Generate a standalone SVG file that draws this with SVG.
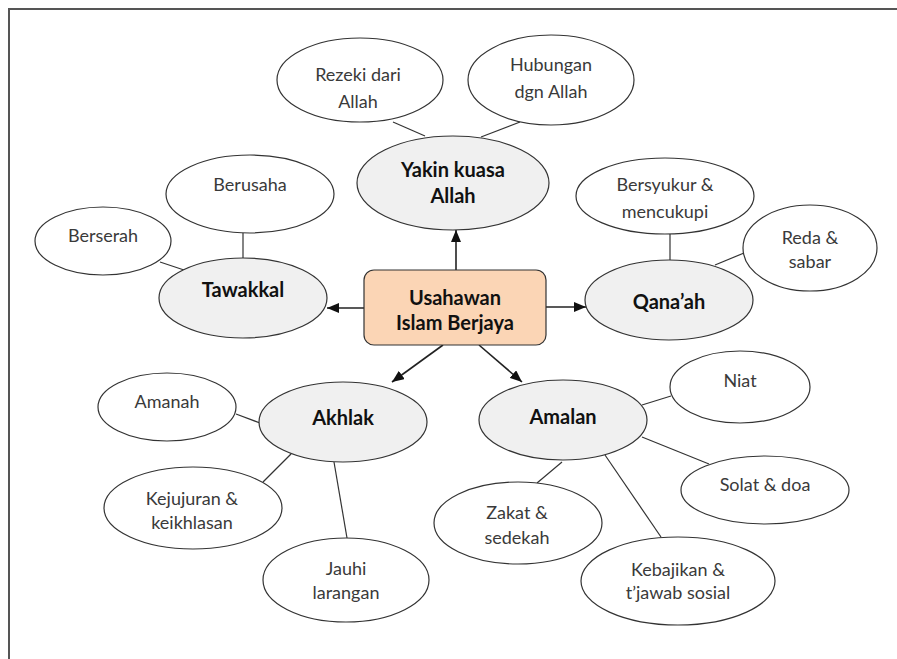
<svg xmlns="http://www.w3.org/2000/svg" width="897" height="659" viewBox="0 0 897 659">
<defs>
<marker id="ah" viewBox="0 0 12 10" refX="12" refY="5" markerWidth="12" markerHeight="10" markerUnits="userSpaceOnUse" orient="auto">
<path d="M0,0 L12,5 L0,10 Z" fill="#111"/>
</marker>
<style>
.sub{fill:#fff;stroke:#333;stroke-width:1.2}
.main{fill:#f0f0f0;stroke:#333;stroke-width:1.2}
.t{font-family:Lato,"Liberation Sans",sans-serif;font-size:18px;fill:#3a3a3a;text-anchor:middle}
.b{font-family:Lato,"Liberation Sans",sans-serif;font-size:20px;font-weight:bold;fill:#111;text-anchor:middle}
.ln{stroke:#333;stroke-width:1.2;fill:none}
.ar{stroke:#222;stroke-width:1.6;fill:none;marker-end:url(#ah)}
</style>
</defs>
<rect x="0" y="0" width="897" height="659" fill="#fff"/>
<path d="M9,670 V9 H905" fill="none" stroke="#555" stroke-width="2"/>
<g id="connectors">
<line class="ln" x1="393" y1="122" x2="425" y2="136"/>
<line class="ln" x1="520" y1="122" x2="481" y2="137"/>
<line class="ln" x1="243" y1="233" x2="243" y2="258"/>
<line class="ln" x1="160" y1="262" x2="187" y2="271"/>
<line class="ln" x1="670" y1="234" x2="670" y2="260"/>
<line class="ln" x1="744" y1="253" x2="715" y2="265"/>
<line class="ln" x1="236" y1="414" x2="260" y2="423"/>
<line class="ln" x1="263" y1="482" x2="291" y2="454"/>
<line class="ln" x1="347" y1="538" x2="334" y2="462"/>
<line class="ln" x1="671" y1="396" x2="642" y2="405"/>
<line class="ln" x1="642" y1="437" x2="709" y2="464"/>
<line class="ln" x1="537" y1="483" x2="562" y2="462"/>
<line class="ln" x1="605" y1="455" x2="661" y2="537"/>
<line class="ar" x1="456" y1="270" x2="456" y2="230"/>
<line class="ar" x1="364" y1="308" x2="327" y2="308"/>
<line class="ar" x1="546" y1="307" x2="586" y2="307"/>
<line class="ar" x1="443" y1="345" x2="392" y2="382"/>
<line class="ar" x1="479" y1="345" x2="522" y2="382"/>
</g>
<g id="rezeki"><ellipse class="sub" cx="360" cy="80" rx="83" ry="42"/><text class="t" x="358" y="81">Rezeki dari</text><text class="t" x="358" y="108">Allah</text></g>
<g id="hubungan"><ellipse class="sub" cx="551" cy="80" rx="83" ry="45"/><text class="t" x="551" y="71">Hubungan</text><text class="t" x="551" y="98">dgn Allah</text></g>
<g id="yakin"><ellipse class="main" cx="453" cy="183" rx="96" ry="47"/><text class="b" x="453" y="177">Yakin kuasa</text><text class="b" x="453" y="203">Allah</text></g>
<g id="berusaha"><ellipse class="sub" cx="250" cy="194" rx="84" ry="39"/><text class="t" x="250" y="191">Berusaha</text></g>
<g id="berserah"><ellipse class="sub" cx="103" cy="241" rx="68" ry="34"/><text class="t" x="103" y="242">Berserah</text></g>
<g id="tawakkal"><ellipse class="main" cx="243" cy="298" rx="84" ry="40"/><text class="b" x="243" y="297">Tawakkal</text></g>
<g id="bersyukur"><ellipse class="sub" cx="665" cy="196" rx="89" ry="38"/><text class="t" x="665" y="191">Bersyukur &amp;</text><text class="t" x="665" y="218">mencukupi</text></g>
<g id="reda"><ellipse class="sub" cx="810" cy="248" rx="67" ry="43"/><text class="t" x="810" y="244">Reda &amp;</text><text class="t" x="810" y="268">sabar</text></g>
<g id="qanaah"><ellipse class="main" cx="669" cy="300" rx="84" ry="40"/><text class="b" x="669" y="309">Qana’ah</text></g>
<g id="usahawan"><rect x="364" y="270" width="182" height="75" rx="10" fill="#fbd5b5" stroke="#333" stroke-width="1.2"/><text class="b" x="455" y="305">Usahawan</text><text class="b" x="455" y="330">Islam Berjaya</text></g>
<g id="amanah"><ellipse class="sub" cx="167" cy="407" rx="69" ry="34"/><text class="t" x="167" y="408">Amanah</text></g>
<g id="akhlak"><ellipse class="main" cx="343" cy="422" rx="84" ry="40"/><text class="b" x="343" y="425">Akhlak</text></g>
<g id="amalan"><ellipse class="main" cx="563" cy="420" rx="84" ry="40"/><text class="b" x="563" y="424">Amalan</text></g>
<g id="niat"><ellipse class="sub" cx="740" cy="387" rx="70" ry="36"/><text class="t" x="740" y="387">Niat</text></g>
<g id="solat"><ellipse class="sub" cx="765" cy="490" rx="84" ry="34"/><text class="t" x="765" y="491">Solat &amp; doa</text></g>
<g id="kejujuran"><ellipse class="sub" cx="193" cy="508" rx="89" ry="41"/><text class="t" x="192" y="505">Kejujuran &amp;</text><text class="t" x="192" y="529">keikhlasan</text></g>
<g id="zakat"><ellipse class="sub" cx="518" cy="523" rx="84" ry="41"/><text class="t" x="517" y="519">Zakat &amp;</text><text class="t" x="517" y="544">sedekah</text></g>
<g id="jauhi"><ellipse class="sub" cx="346" cy="580" rx="83" ry="42"/><text class="t" x="346" y="575">Jauhi</text><text class="t" x="346" y="599">larangan</text></g>
<g id="kebajikan"><ellipse class="sub" cx="678" cy="581" rx="97" ry="44"/><text class="t" x="678" y="576">Kebajikan &amp;</text><text class="t" x="678" y="599">t’jawab sosial</text></g>
</svg>
